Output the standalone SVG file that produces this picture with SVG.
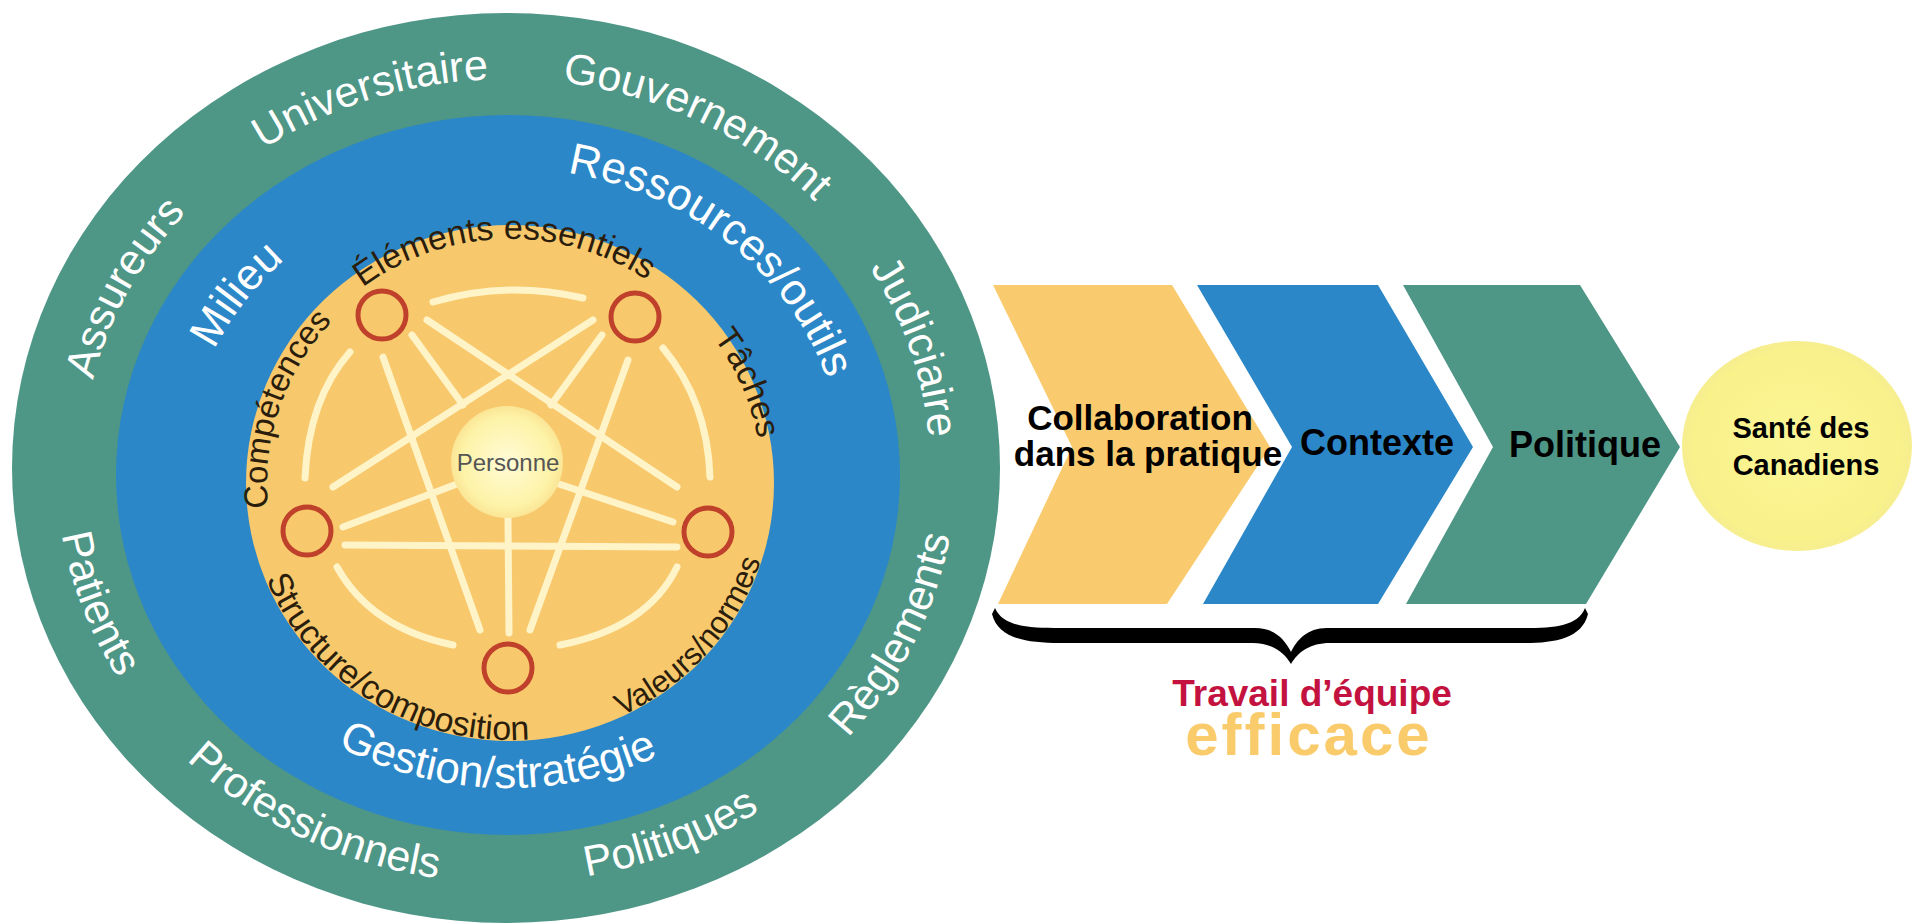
<svg xmlns="http://www.w3.org/2000/svg" width="1913" height="924" viewBox="0 0 1913 924">
<defs>
<style>
.ow{font-family:"Liberation Sans",Arial,sans-serif;fill:#ffffff;font-size:43px}
.bw{font-family:"Liberation Sans",Arial,sans-serif;fill:#ffffff;font-size:44px}
.yt{font-family:"Liberation Sans",Arial,sans-serif;fill:#2a1d0c;font-size:33px}
.lab{font-family:"Liberation Sans",Arial,sans-serif;font-weight:bold;fill:#000000;text-anchor:middle}
.ln{stroke:#FFF4C8;stroke-width:7;stroke-linecap:round;fill:none}
.nd{fill:none;stroke:#C0412B;stroke-width:5}
</style>
<radialGradient id="gPers" cx="0.5" cy="0.5" r="0.5">
<stop offset="0" stop-color="#FFFBD6"/>
<stop offset="0.8" stop-color="#FDF3A8"/>
<stop offset="1" stop-color="#FBE595"/>
</radialGradient>
<radialGradient id="gSante" cx="0.5" cy="0.5" r="0.5">
<stop offset="0" stop-color="#FBF596"/>
<stop offset="0.9" stop-color="#F9F18A"/>
<stop offset="1" stop-color="#F6EE90"/>
</radialGradient>
<path id="pUni" d="M109.1,331.1 A424,389 0 0 1 721.8,133.2"/>
<path id="pGou" d="M348.2,106.9 A424,389 0 0 1 921.0,388.1"/>
<path id="pJud" d="M672.3,110.2 A424,389 0 0 1 861.2,680.4"/>
<path id="pAss" d="M118.7,626.2 A424,389 0 0 1 403.4,90.6"/>
<path id="pReg" d="M629.7,867.0 A450,415 0 0 0 910.6,286.4"/>
<path id="pPol" d="M303.1,838.4 A450,415 0 0 0 936.8,587.9"/>
<path id="pPro" d="M66.0,555.0 A450,415 0 0 0 675.3,852.5"/>
<path id="pPat" d="M120.3,254.3 A450,415 0 0 0 344.7,855.4"/>
<path id="pRes" d="M460.1,171.1 A336,307 0 0 1 843.8,484.6"/>
<path id="pMil" d="M195.9,554.9 A324,297 0 0 1 476.4,179.4"/>
<path id="pGes" d="M240.1,667.7 A340,313 0 0 0 760.7,684.4"/>
<path id="pEle" d="M317.5,331.1 A246,244 0 0 1 694.3,321.3"/>
<path id="pCom" d="M303.3,607.5 A243,237 0 0 1 420.2,262.8"/>
<path id="pTac" d="M583.7,247.8 A252,246 0 0 1 734.5,594.7"/>
<path id="pStr" d="M249.6,518.8 A263,257 0 0 0 591.3,727.4"/>
<path id="pVal" d="M505.4,740.0 A263,257 0 0 0 769.8,442.8"/>
</defs>
<rect x="0" y="0" width="1913" height="924" fill="#ffffff"/>

<g id="outer-ring">
<ellipse cx="506" cy="468" rx="494" ry="455" fill="#4E9686"/>
<text class="ow"><textPath href="#pUni" startOffset="50%" text-anchor="middle">Universitaire</textPath></text>
<text class="ow"><textPath href="#pGou" startOffset="50%" text-anchor="middle">Gouvernement</textPath></text>
<text class="ow"><textPath href="#pJud" startOffset="50%" text-anchor="middle">Judiciaire</textPath></text>
<text class="ow"><textPath href="#pAss" startOffset="50%" text-anchor="middle">Assureurs</textPath></text>
<text class="ow"><textPath href="#pReg" startOffset="50%" text-anchor="middle">Règlements</textPath></text>
<text class="ow"><textPath href="#pPol" startOffset="50%" text-anchor="middle">Politiques</textPath></text>
<text class="ow"><textPath href="#pPro" startOffset="50%" text-anchor="middle">Professionnels</textPath></text>
<text class="ow"><textPath href="#pPat" startOffset="50%" text-anchor="middle">Patients</textPath></text>
</g>

<g id="blue-ring">
<ellipse cx="508" cy="475" rx="392" ry="360" fill="#2B87C8"/>
<text class="bw"><textPath href="#pRes" startOffset="50%" text-anchor="middle">Ressources/outils</textPath></text>
<text class="bw"><textPath href="#pMil" startOffset="50%" text-anchor="middle">Milieu</textPath></text>
<text class="bw"><textPath href="#pGes" startOffset="50%" text-anchor="middle">Gestion/stratégie</textPath></text>
</g>

<g id="yellow-ring">
<ellipse cx="510" cy="483" rx="264" ry="258" fill="#F8C86C"/>
<text class="yt" style="font-size:34px"><textPath href="#pEle" startOffset="50%" text-anchor="middle">Éléments essentiels</textPath></text>
<text class="yt"><textPath href="#pCom" startOffset="50%" text-anchor="middle">Compétences</textPath></text>
<text class="yt" style="font-size:34px"><textPath href="#pTac" startOffset="50%" text-anchor="middle">Tâches</textPath></text>
<text class="yt" style="font-size:34px"><textPath href="#pStr" startOffset="50%" text-anchor="middle">Structure/composition</textPath></text>
<text class="yt" style="font-size:31px"><textPath href="#pVal" startOffset="50%" text-anchor="middle">Valeurs/normes</textPath></text>
</g>

<g id="connectors">
<path class="ln" d="M433,302 Q507,280 583,298"/>
<path class="ln" d="M350,352 Q308.5,399 305,478"/>
<path class="ln" d="M663,348 Q707.5,401.5 710,477"/>
<path class="ln" d="M337,567 Q371,628 453,645"/>
<path class="ln" d="M560,645 Q647.5,628 677,567"/>
<line class="ln" x1="345" y1="545" x2="677" y2="547"/>
<line class="ln" x1="427" y1="320" x2="677" y2="487"/>
<line class="ln" x1="593" y1="320" x2="333" y2="487"/>
<line class="ln" x1="383" y1="357" x2="480" y2="630"/>
<line class="ln" x1="628" y1="360" x2="530" y2="630"/>
<line class="ln" x1="412" y1="335" x2="463" y2="405"/>
<line class="ln" x1="602" y1="335" x2="551" y2="405"/>
<line class="ln" x1="343" y1="527" x2="457" y2="484"/>
<line class="ln" x1="673" y1="522" x2="559" y2="484"/>
<line class="ln" x1="509" y1="633" x2="508" y2="518"/>
</g>

<g id="node-personne">
<circle cx="507" cy="462" r="56" fill="url(#gPers)"/>
<text x="508" y="471" font-family="'Liberation Sans',Arial,sans-serif" font-size="24" fill="#555555" text-anchor="middle">Personne</text>
</g>
<g id="node-elements"><circle class="nd" cx="382" cy="315" r="24"/></g>
<g id="node-taches"><circle class="nd" cx="635" cy="317" r="24"/></g>
<g id="node-competences"><circle class="nd" cx="307" cy="531" r="24"/></g>
<g id="node-valeurs"><circle class="nd" cx="708" cy="532" r="24"/></g>
<g id="node-structure"><circle class="nd" cx="508" cy="668" r="24"/></g>

<g id="chevron-collaboration">
<polygon points="993,285 1172,285 1270,447 1167,604 998,604 1072,447" fill="#F9CB6E"/>
<text class="lab" x="1140" y="430" font-size="35">Collaboration</text>
<text class="lab" x="1148" y="466" font-size="35">dans la pratique</text>
</g>
<g id="chevron-contexte">
<polygon points="1197,285 1378,285 1473,447 1378,604 1203,604 1292,447" fill="#2B87C8"/>
<text class="lab" x="1377" y="455" font-size="36">Contexte</text>
</g>
<g id="chevron-politique">
<polygon points="1403,285 1580,285 1680,447 1586,604 1406,604 1493,447" fill="#4E9686"/>
<text class="lab" x="1585" y="457" font-size="36">Politique</text>
</g>
<g id="node-sante">
<ellipse cx="1797" cy="446" rx="115" ry="105" fill="url(#gSante)"/>
<text class="lab" x="1801" y="438" font-size="29">Santé des</text>
<text class="lab" x="1806" y="475" font-size="29">Canadiens</text>
</g>

<g id="brace-travail">
<path d="M995,608 C1003,627 1030,628 1060,628 L1255,628 C1275,628 1285,640 1291,652 C1297,640 1307,628 1327,628 L1525,628 C1555,628 1578,626 1585,608 L1588,614 C1582,638 1556,643 1525,643 L1330,643 C1310,643 1298,652 1291,664 C1284,652 1272,643 1252,643 L1060,643 C1025,643 998,638 992,614 Z" fill="#000000"/>
<text class="lab" x="1312" y="706" font-size="37" style="fill:#C41240">Travail d’équipe</text>
<text class="lab" x="1309" y="755" font-size="60" letter-spacing="3" style="fill:#F9CB6B">efficace</text>
</g>
</svg>
